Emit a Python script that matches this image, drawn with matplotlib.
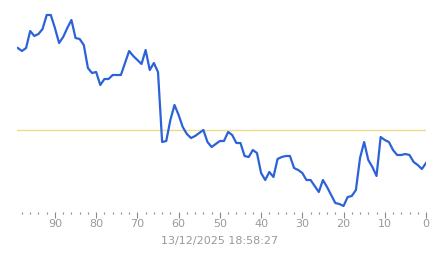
import numpy as np
import matplotlib
matplotlib.use("Agg")
import matplotlib.pyplot as plt
from matplotlib.ticker import MultipleLocator

# 横轴：距当前的采样序号（99 → 0）
ages = list(range(99, -1, -1))
# 纵轴数值（任意单位，从图上读取）
values = [
    172, 169, 172, 189, 184, 186, 191, 205, 205, 192,
    177, 183, 192, 200, 182, 181, 175, 152, 147, 148,
    135, 141, 141, 145, 145, 145, 157, 169, 164, 160,
    156, 170, 150, 157, 148, 78, 79, 100, 115, 105,
    93, 86, 82, 84, 87, 90, 78, 73, 76, 79,
    79, 88, 85, 77, 77, 64, 63, 70, 67, 47,
    40, 48, 43, 61, 63, 64, 64, 52, 50, 47,
    40, 40, 34, 28, 40, 33, 25, 17, 16, 14,
    23, 24, 30, 62, 78, 60, 53, 44, 83, 80,
    78, 70, 65, 65, 66, 65, 58, 55, 51, 57,
]
ref_level = 89.7
timestamp = "13/12/2025 18:58:27"

fig = plt.figure(figsize=(4.43, 2.58), dpi=100)
W, H = 443, 258
ax = fig.add_axes([17 / W, (H - 212) / H, (426 - 17) / W, (212 - 5) / H])

ax.axhline(ref_level, color="#ecdc8e", lw=1.0, zorder=1)
ax.plot(ages, values, color="#2b62d8", lw=1.6, solid_joinstyle="round", zorder=2)

ax.set_xlim(99.2, 0)
ax.set_ylim(8, 215)
for s in ax.spines.values():
    s.set_visible(False)
ax.set_yticks([])
ax.xaxis.set_major_locator(MultipleLocator(10))
ax.xaxis.set_minor_locator(MultipleLocator(2))
ax.tick_params(axis="x", which="major", length=4, width=0.8, color="#888888",
               labelsize=8, labelcolor="#999999", pad=1)
ax.tick_params(axis="x", which="minor", length=1.2, width=0.8, color="#888888")

fig.text(220 / W, 1 - 241 / H, timestamp, ha="center", va="center",
         fontsize=8, color="#999999")

fig.savefig("out.png", dpi=100)
